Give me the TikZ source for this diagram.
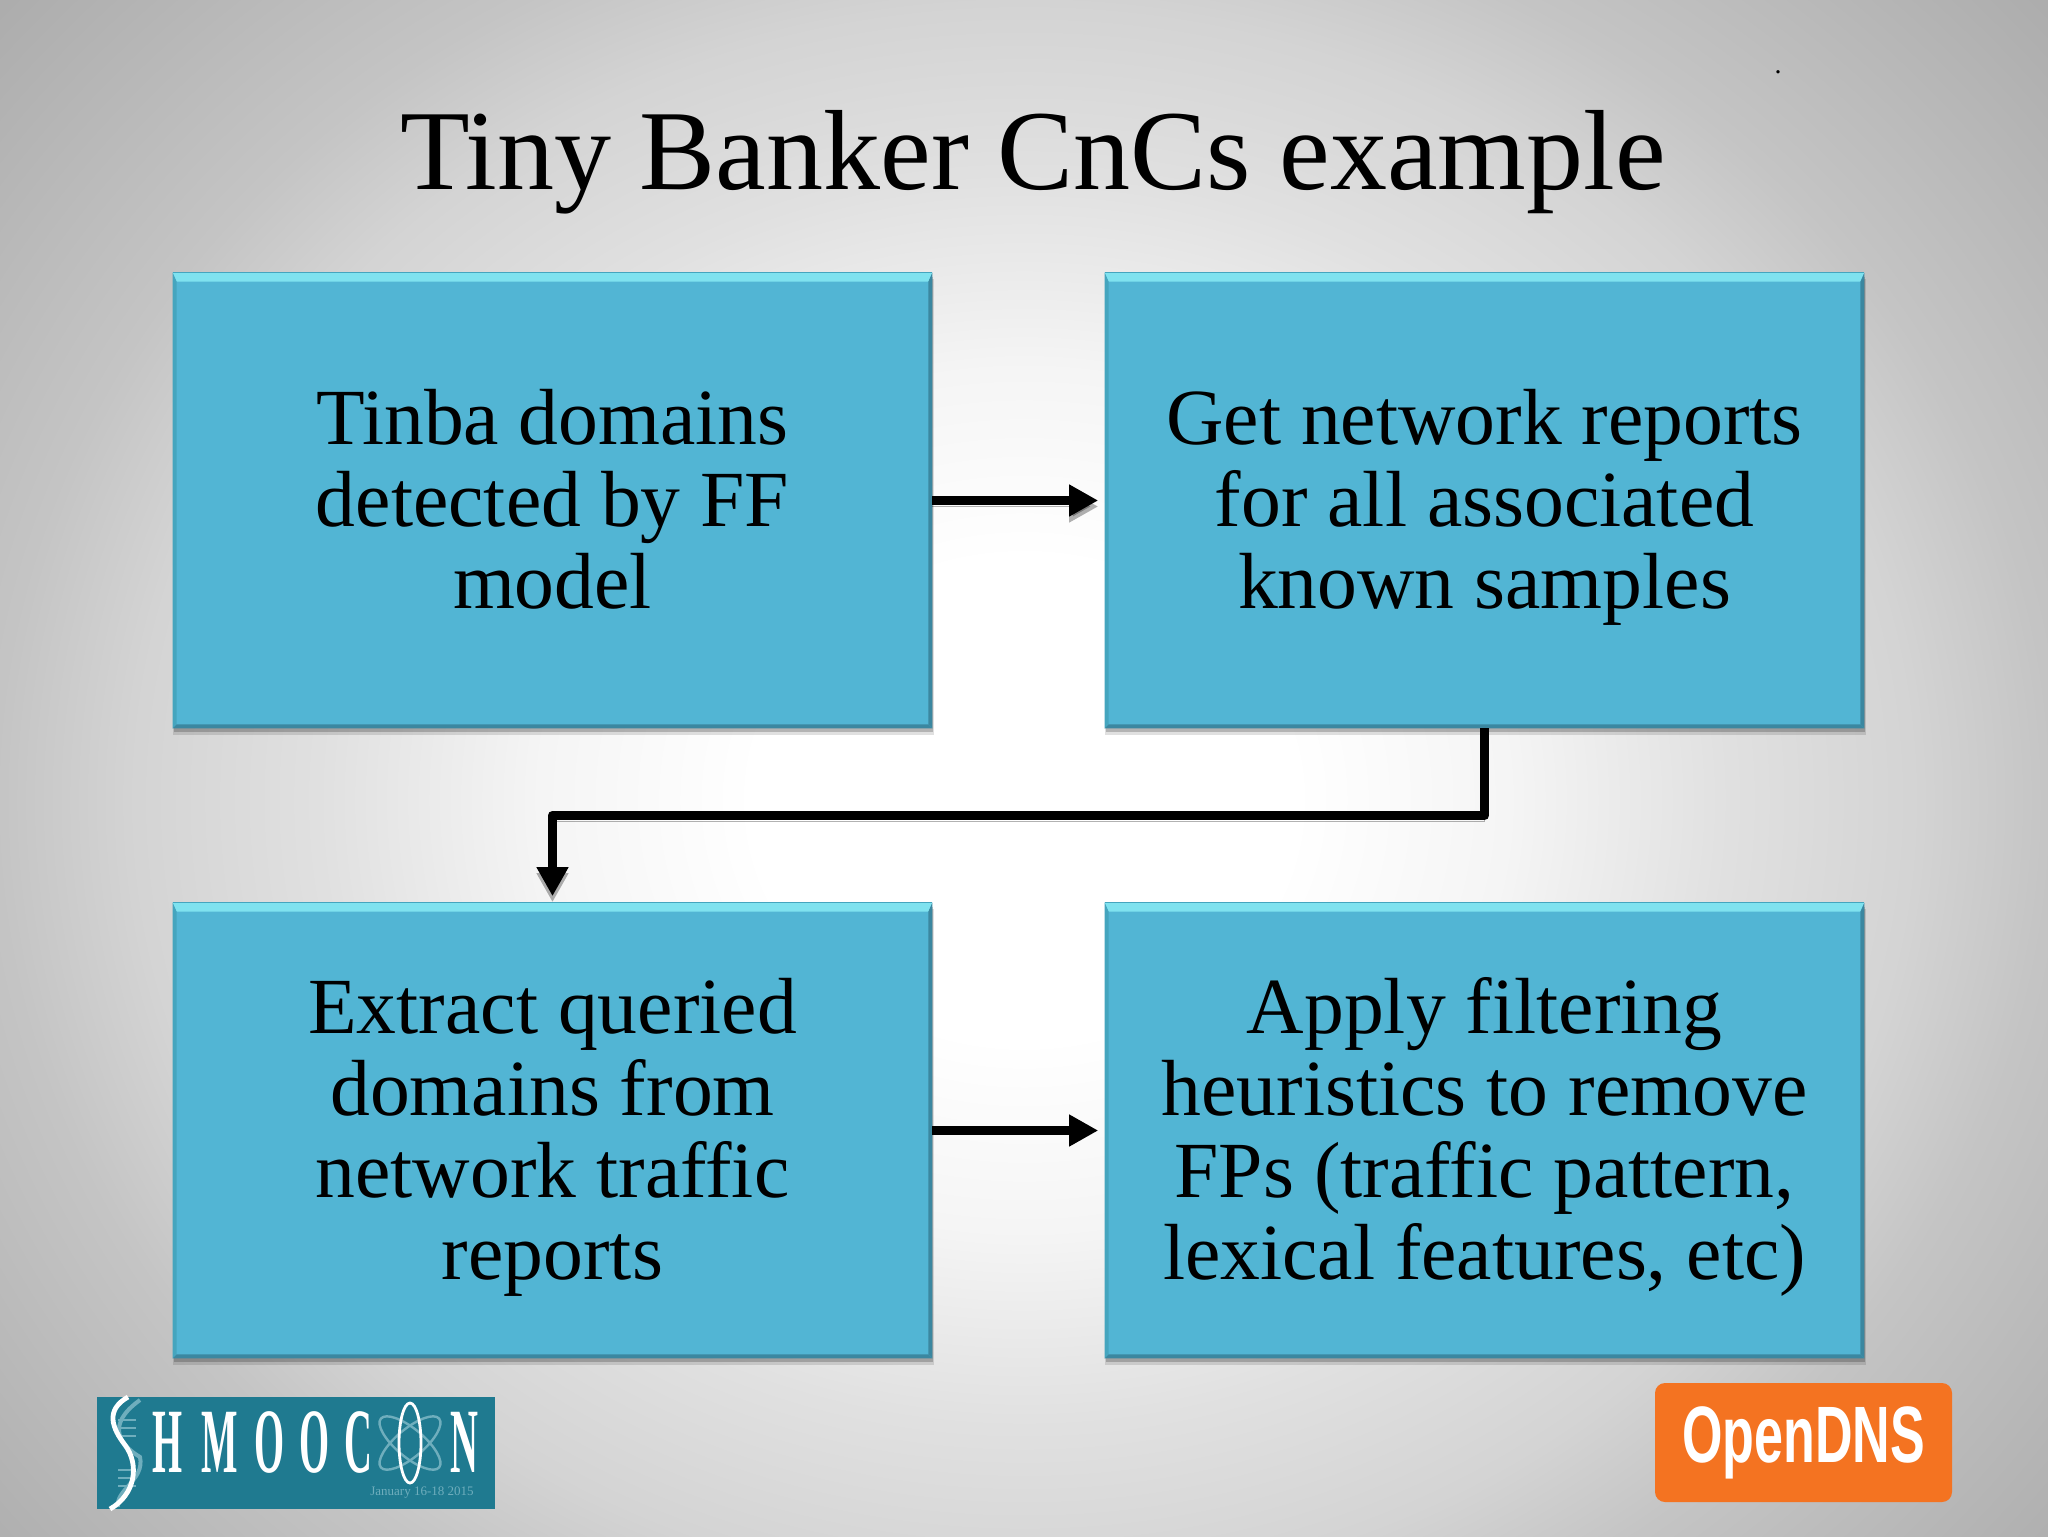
\documentclass[tikz,border=0pt]{standalone}
\usepackage{fontspec}
\usepackage{graphicx}
\setmainfont{Liberation Serif}
\newfontfamily\logosans{Liberation Sans}
\usetikzlibrary{arrows.meta,calc,backgrounds}
\definecolor{boxfill}{HTML}{52B5D4}
\definecolor{boxtop}{HTML}{7FE2EF}
\definecolor{boxleft}{HTML}{45A5BE}
\definecolor{boxdark}{HTML}{3B87A0}
\definecolor{logoteal}{HTML}{1F7A90}
\definecolor{logopale}{HTML}{6FAEBD}
\definecolor{dnsorange}{HTML}{F47321}
\pgfdeclareradialshading{slidebg}{\pgfpoint{0bp}{0bp}}{
  rgb(0bp)=(1,1,1);
  rgb(2.5bp)=(1,1,1);
  rgb(4.5bp)=(.96,.96,.96);
  rgb(6.5bp)=(.88,.88,.88);
  rgb(8.25bp)=(.83,.83,.83);
  rgb(9.5bp)=(.77,.77,.77);
  rgb(12.5bp)=(.68,.68,.68);
  rgb(50bp)=(.68,.68,.68)}
\tikzset{
  x=.5pt,y=-.5pt,
  flowbox/.style={fill=boxfill,draw=none,inner sep=0pt,minimum width=379.5pt,minimum height=227.5pt,
    align=center,text=black,font=\fontsize{39.8}{41}\selectfont},
  connector/.style={draw=black,line width=4.7pt,line join=round,-{Triangle[length=14.5pt,width=15pt]},shorten >=3.2pt},
  conshadow/.style={preaction={draw=black,opacity=.3,transform canvas={yshift=-3pt}}},
  logoletter/.style={text=white,font=\bfseries\fontsize{46}{46}\selectfont,inner sep=0pt},
}
\newcommand{\narrow}[1]{\scalebox{.42}[1]{#1}}
\newcommand{\firststrut}{\rule{0pt}{38.7pt}}
\begin{document}
\begin{tikzpicture}
\useasboundingbox (0,0) rectangle (2048,1536);
\begin{pgfonlayer}{background}
  \begin{scope}
    \clip (0,0) rectangle (2048,1536);
    \shade[shading=slidebg] (1024,800) ellipse [x radius=2700,y radius=2400];
  \end{scope}
\end{pgfonlayer}

\node (dot) at (1778,72) {\fontsize{14}{14}\selectfont .};
\node[font=\fontsize{57}{60}\selectfont,inner sep=0pt,anchor=base] (title) at (1033,189) {Tiny Banker CnCs example};

\node[flowbox] (boxA) at (552.5,500.5) {\firststrut Tinba domains\\detected by FF\\model\strut};
\node[flowbox] (boxB) at (1484.5,500.5) {\firststrut Get network reports\\for all associated\\known samples\strut};
\node[flowbox] (boxC) at (552.5,1130.5) {\firststrut Extract queried\\domains from\\network traffic\\reports\strut};
\node[flowbox] (boxD) at (1484.5,1130.5) {\firststrut Apply filtering\\heuristics to remove\\FPs (traffic pattern,\\lexical features, etc)\strut};

\foreach \n in {boxA,boxB,boxC,boxD}{
  \fill[boxtop] (\n.north west) -- (\n.north east) -- ($(\n.north east)+(-4,9)$) -- ($(\n.north west)+(4,9)$) -- cycle;
  \fill[boxleft] (\n.north west) -- ($(\n.north west)+(4,9)$) -- ($(\n.south west)+(4,-4)$) -- (\n.south west) -- cycle;
  \fill[boxdark] (\n.north east) -- ($(\n.north east)+(-4,9)$) -- ($(\n.south east)+(-4,-4)$) -- (\n.south east) -- cycle;
  \fill[boxdark] (\n.south west) -- ($(\n.south west)+(4,-4)$) -- ($(\n.south east)+(-4,-4)$) -- (\n.south east) -- cycle;
  \draw[boxleft,line width=.8pt] (\n.north west) -- (\n.north east);
  \begin{pgfonlayer}{background}
    \fill[black,opacity=.12] ($(\n.north west)+(0,6)$) rectangle ($(\n.south east)+(2,7)$);
    \fill[black,opacity=.2] ($(\n.north west)+(1,4)$) rectangle ($(\n.south east)+(1,4)$);
  \end{pgfonlayer}
}

\draw[connector,conshadow] (boxA.east) -- (boxB.west);
\draw[connector,conshadow] (boxB.south) -- ++(0,87) -| (boxC.north);
\draw[connector] (boxC.east) -- (boxD.west);

% ShmooCon logo
\fill[logoteal] (97,1397) rectangle (495,1509);
\draw[logopale,line width=2pt] (140,1400) .. controls (105,1425) and (120,1445) .. (140,1457) .. controls (145,1480) and (115,1490) .. (118,1507);
\foreach \yy in {1420,1428,1436,1470,1478,1486}{\draw[logopale,line width=1pt] (118,\yy) -- (136,\yy);}
\draw[white,line width=2.4pt] (128,1397) .. controls (105,1410) and (112,1428) .. (125,1445) .. controls (140,1465) and (135,1495) .. (110,1509);
\node[logoletter] (sH) at (168,1442) {\narrow{H}};
\node[logoletter] (sM) at (220,1442) {\narrow{M}};
\node[logoletter] (sO) at (270,1442) {\narrow{O}};
\node[logoletter] (sP) at (315,1442) {\narrow{O}};
\node[logoletter] (sC) at (358,1442) {\narrow{C}};
\node[logoletter] (sN) at (464,1442) {\narrow{N}};
\draw[logopale,line width=1.2pt,rotate around={50:(410,1443)}] (410,1443) ellipse [x radius=14,y radius=38];
\draw[logopale,line width=1.2pt,rotate around={-50:(410,1443)}] (410,1443) ellipse [x radius=14,y radius=38];
\draw[white,line width=1.4pt] (410,1443) ellipse [x radius=11,y radius=40];
\node[text=logopale,font=\fontsize{6.5}{7}\selectfont,inner sep=0pt] (sdate) at (422,1493) {January 16-18 2015};

% OpenDNS logo
\node[fill=dnsorange,rounded corners=5pt,minimum width=148.5pt,minimum height=59.5pt,inner sep=0pt,
  text=white,font=\logosans\bfseries\fontsize{40}{40}\selectfont] (dns) at (1803.5,1442.5) {\raisebox{-2pt}{\scalebox{.65}[1]{OpenDNS}}};
\end{tikzpicture}
\end{document}
